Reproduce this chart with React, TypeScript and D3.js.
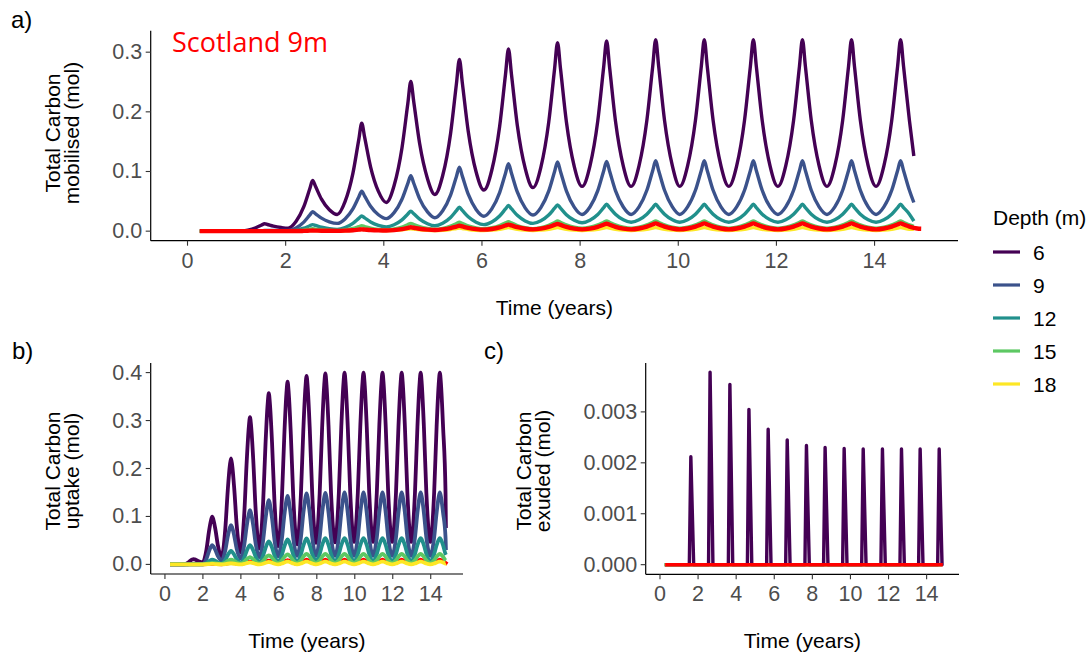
import React from "react";
import * as d3 from "d3";

// ---------- categories / styling keys ----------
const DEPTHS = ["6", "9", "12", "15", "18"];
const DEPTH_COLORS = ["#440154", "#3B528B", "#21908C", "#5DC863", "#FDE725"];
const RED = "#FF0000";

// ---------- tick labels ----------
const X_TICKS = [0, 2, 4, 6, 8, 10, 12, 14];
const A_Y_TICKS = [0, 0.1, 0.2, 0.3];
const B_Y_TICKS = [0, 0.1, 0.2, 0.3, 0.4];
const C_Y_TICKS = [0, 0.001, 0.002, 0.003];

const X_DOMAIN: [number, number] = [-0.75, 15.7];

// ---------- panel a: Total Carbon mobilised ----------
const A_START = 0.25;
const A_END_DEPTH = 14.8;
const A_END_RED = 14.95;
const A_PEAK_T = [1.57, 2.55, 3.55, 4.55, 5.54, 6.54, 7.54, 8.54, 9.54, 10.53, 11.53, 12.53, 13.53, 14.53];
// cycle shape (offset from peak in years, fraction of peak height above trough)
const A_SHAPE_OFF = [-0.34, -0.18, -0.06, 0, 0.06, 0.18, 0.34];
const A_SHAPE_FRAC = [0.14, 0.45, 0.82, 1, 0.82, 0.45, 0.14];

const A_PEAK_6 = [0.0125, 0.085, 0.181, 0.251, 0.288, 0.3055, 0.316, 0.319, 0.321, 0.321, 0.321, 0.321, 0.321, 0.321];
const A_TROUGH_6 = [0, 0.005, 0.028, 0.048, 0.0615, 0.069, 0.073, 0.075, 0.075, 0.075, 0.075, 0.075, 0.075, 0.075, 0.075];
const A_PEAK_9 = [0.001, 0.0325, 0.067, 0.093, 0.107, 0.113, 0.116, 0.117, 0.118, 0.118, 0.118, 0.118, 0.118, 0.118];
const A_TROUGH_9 = [0, 0.001, 0.013, 0.021, 0.0224, 0.025, 0.027, 0.028, 0.028, 0.028, 0.028, 0.028, 0.028, 0.028, 0.028];
const A_PEAK_12 = [0, 0.011, 0.0255, 0.0335, 0.04, 0.043, 0.044, 0.045, 0.045, 0.045, 0.045, 0.045, 0.045, 0.045];
const A_TROUGH_12 = [0, 0, 0.003, 0.007, 0.009, 0.011, 0.013, 0.014, 0.015, 0.015, 0.015, 0.015, 0.015, 0.015, 0.015];
const A_PEAK_15 = [0, 0.004, 0.009, 0.013, 0.015, 0.016, 0.017, 0.017, 0.017, 0.017, 0.017, 0.017, 0.017, 0.017];
const A_TROUGH_15 = [0, 0, 0.001, 0.002, 0.003, 0.004, 0.004, 0.005, 0.005, 0.005, 0.005, 0.005, 0.005, 0.005, 0.005];
const A_PEAK_18 = [0, 0.001, 0.003, 0.004, 0.005, 0.006, 0.006, 0.006, 0.006, 0.006, 0.006, 0.006, 0.006, 0.006];
const A_TROUGH_18 = [0, 0, 0, 0.001, 0.001, 0.001, 0.001, 0.001, 0.001, 0.001, 0.001, 0.001, 0.001, 0.001, 0.001];
const A_PEAK_RED = [0, 0.001, 0.003, 0.0065, 0.009, 0.011, 0.012, 0.0125, 0.013, 0.013, 0.013, 0.013, 0.013, 0.013];
const A_TROUGH_RED = [0, 0, 0.0005, 0.001, 0.002, 0.0025, 0.003, 0.003, 0.003, 0.003, 0.003, 0.003, 0.003, 0.003, 0.003];
const A_END_VALUES = [0.126, 0.048, 0.017, 0.008, 0.003];
const A_END_VALUE_RED = 0.004;

// ---------- panel b: Total Carbon uptake ----------
const B_START = 0.27;
const B_END_DEPTH = 14.8;
const B_END_RED = 14.88;
const B_PEAK_T = [1.5, 2.49, 3.48, 4.48, 5.47, 6.46, 7.46, 8.45, 9.46, 10.46, 11.46, 12.47, 13.47, 14.48];
const B_SHAPE_OFF = [-0.3, -0.17, -0.06, 0, 0.06, 0.17, 0.3];
const B_SHAPE_FRAC = [0.29, 0.68, 0.93, 1, 0.93, 0.68, 0.29];

const B_PEAK_6 = [0.011, 0.0995, 0.221, 0.307, 0.357, 0.381, 0.393, 0.3985, 0.4, 0.4, 0.4, 0.4, 0.4, 0.4];
const B_TROUGH_6 = [0, 0.004, 0.015, 0.025, 0.033, 0.038, 0.042, 0.045, 0.046, 0.047, 0.047, 0.047, 0.047, 0.047, 0.047];
const B_PEAK_9 = [0.001, 0.04, 0.082, 0.113, 0.134, 0.143, 0.148, 0.149, 0.15, 0.15, 0.15, 0.15, 0.15, 0.15];
const B_TROUGH_9 = [0, 0.001, 0.008, 0.012, 0.015, 0.017, 0.018, 0.018, 0.018, 0.018, 0.018, 0.018, 0.018, 0.018, 0.018];
const B_PEAK_12 = [0, 0.01, 0.028, 0.04, 0.048, 0.052, 0.054, 0.055, 0.055, 0.055, 0.055, 0.055, 0.055, 0.055];
const B_TROUGH_12 = [0, 0, 0.002, 0.004, 0.006, 0.007, 0.007, 0.008, 0.008, 0.008, 0.008, 0.008, 0.008, 0.008, 0.008];
const B_PEAK_15 = [0, 0.003, 0.01, 0.015, 0.019, 0.021, 0.022, 0.022, 0.022, 0.022, 0.022, 0.022, 0.022, 0.022];
const B_TROUGH_15 = [0, 0, 0.001, 0.002, 0.002, 0.003, 0.003, 0.003, 0.003, 0.003, 0.003, 0.003, 0.003, 0.003, 0.003];
const B_PEAK_18 = [0, 0.001, 0.002, 0.004, 0.005, 0.006, 0.006, 0.006, 0.006, 0.006, 0.006, 0.006, 0.006, 0.006];
const B_TROUGH_18 = [0, 0, 0, 0, 0, 0, 0, 0, 0, 0, 0, 0, 0, 0, 0];
const B_PEAK_RED = [0, 0.001, 0.003, 0.006, 0.008, 0.009, 0.01, 0.01, 0.01, 0.01, 0.01, 0.01, 0.01, 0.01];
const B_TROUGH_RED = [0, 0, 0, 0.001, 0.001, 0.001, 0.001, 0.001, 0.001, 0.001, 0.001, 0.001, 0.001, 0.001, 0.001];
const B_END_VALUES = [0.076, 0.03, 0.02, 0.008, 0.002];
const B_END_VALUE_RED = 0.001;

// ---------- panel c: Total Carbon exuded ----------
const C_START = 0.25;
const C_END_DEPTH = 14.8;
const C_RED_START = 0.27;
const C_RED_END = 14.85;
const C_SPIKE_T = [1.62, 2.63, 3.67, 4.67, 5.68, 6.68, 7.69, 8.67, 9.67, 10.67, 11.68, 12.68, 13.66, 14.66];
const C_SPIKE_6 = [0.00212, 0.00378, 0.00354, 0.00305, 0.00266, 0.00245, 0.00234, 0.0023, 0.00228, 0.00227, 0.00227, 0.00227, 0.00227, 0.00227];
const C_SHAPE_OFF = [-0.08, 0, 0.15];
const C_SHAPE_FRAC = [0, 1, 0];

type Pt = [number, number];

function buildCycles(
  start: number, peakT: number[], peaks: number[], troughs: number[],
  offs: number[], fracs: number[], end: number, endVal: number
): Pt[] {
  const half = 0.5;
  const pts: Pt[] = [[start, 0]];
  peakT.forEach((t, i) => {
    const tt = t - half;
    if (tt > start) pts.push([tt, troughs[i]]);
    offs.forEach((o, j) => {
      const lo = o < 0 ? troughs[i] : troughs[i + 1];
      pts.push([t + o, lo + fracs[j] * (peaks[i] - lo)]);
    });
  });
  pts.push([peakT[peakT.length - 1] + half, troughs[peakT.length]]);
  const out = pts.filter((p) => p[0] < end);
  out.push([end, endVal]);
  return out;
}

function buildSpikes(start: number, end: number, times: number[], vals: number[]): Pt[] {
  const pts: Pt[] = [[start, 0]];
  times.forEach((t, i) => {
    C_SHAPE_OFF.forEach((o, j) => pts.push([t + o, C_SHAPE_FRAC[j] * vals[i]]));
  });
  pts.push([end, 0]);
  return pts;
}

const FONT = "'Liberation Sans', Arial, sans-serif";
const TICK_FS = 21.5;
const TITLE_FS = 21;
const LABEL_FS = 24;

type Series = { pts: Pt[]; color: string; width: number; curve: d3.CurveFactory };

type PanelProps = {
  x0: number; x1: number; yTop: number; yBot: number;
  yDomain: [number, number]; yTicks: number[]; yFmt: (v: number) => string;
  series: Series[];
  yTitle: [string, string]; yTitleX: [number, number]; yTitleY: number;
  label: string; labelX: number; labelY: number;
};

function Panel(p: PanelProps) {
  const xs = d3.scaleLinear().domain(X_DOMAIN).range([p.x0, p.x1]);
  const ys = d3.scaleLinear().domain(p.yDomain).range([p.yBot, p.yTop]);
  const xMid = (p.x0 + p.x1) / 2;
  return (
    <g>
      <text x={p.labelX} y={p.labelY} fontSize={LABEL_FS} fontFamily={FONT} fill="#000">{p.label}</text>
      {p.series.map((s, i) => {
        const line = d3.line<Pt>().x((d) => xs(d[0])).y((d) => ys(d[1])).curve(s.curve);
        return (
          <path key={i} d={line(s.pts) || ""} fill="none" stroke={s.color}
            strokeWidth={s.width} strokeLinejoin="round" strokeLinecap="butt" />
        );
      })}
      <line x1={p.x0} x2={p.x0} y1={p.yTop} y2={p.yBot} stroke="#000" strokeWidth={1.2} />
      <line x1={p.x0} x2={p.x1} y1={p.yBot} y2={p.yBot} stroke="#000" strokeWidth={1.2} />
      {p.yTicks.map((v) => (
        <g key={"y" + v}>
          <line x1={p.x0 - 5} x2={p.x0} y1={ys(v)} y2={ys(v)} stroke="#333" strokeWidth={1.1} />
          <text x={p.x0 - 8.5} y={ys(v)} textAnchor="end" dominantBaseline="central"
            fontSize={TICK_FS} fontFamily={FONT} fill="#4D4D4D">{p.yFmt(v)}</text>
        </g>
      ))}
      {X_TICKS.map((v) => (
        <g key={"x" + v}>
          <line x1={xs(v)} x2={xs(v)} y1={p.yBot} y2={p.yBot + 5} stroke="#333" strokeWidth={1.1} />
          <text x={xs(v)} y={p.yBot + 27} textAnchor="middle"
            fontSize={TICK_FS} fontFamily={FONT} fill="#4D4D4D">{v}</text>
        </g>
      ))}
      <text x={xMid} y={p.yBot + 74} textAnchor="middle" fontSize={TITLE_FS} fontFamily={FONT} fill="#000">Time (years)</text>
      {p.yTitle.map((t, i) => (
        <text key={t} transform={`translate(${p.yTitleX[i]},${p.yTitleY}) rotate(-90)`} textAnchor="middle"
          fontSize={TITLE_FS} fontFamily={FONT} fill="#000">{t}</text>
      ))}
    </g>
  );
}

export default function App() {
  const mono = d3.curveMonotoneX;
  const lin = d3.curveLinear;

  const aPeaks = [A_PEAK_6, A_PEAK_9, A_PEAK_12, A_PEAK_15, A_PEAK_18];
  const aTroughs = [A_TROUGH_6, A_TROUGH_9, A_TROUGH_12, A_TROUGH_15, A_TROUGH_18];
  const aSeries: Series[] = DEPTHS.map((_, i) => ({
    pts: buildCycles(A_START, A_PEAK_T, aPeaks[i], aTroughs[i], A_SHAPE_OFF, A_SHAPE_FRAC, A_END_DEPTH, A_END_VALUES[i]),
    color: DEPTH_COLORS[i], width: 3.4, curve: mono,
  }));
  aSeries.push({
    pts: buildCycles(A_START, A_PEAK_T, A_PEAK_RED, A_TROUGH_RED, A_SHAPE_OFF, A_SHAPE_FRAC, A_END_RED, A_END_VALUE_RED),
    color: RED, width: 4.4, curve: mono,
  });

  const bPeaks = [B_PEAK_6, B_PEAK_9, B_PEAK_12, B_PEAK_15, B_PEAK_18];
  const bTroughs = [B_TROUGH_6, B_TROUGH_9, B_TROUGH_12, B_TROUGH_15, B_TROUGH_18];
  const bSeries: Series[] = [{
    pts: buildCycles(B_START, B_PEAK_T, B_PEAK_RED, B_TROUGH_RED, B_SHAPE_OFF, B_SHAPE_FRAC, B_END_RED, B_END_VALUE_RED),
    color: RED, width: 3.5, curve: mono,
  }];
  DEPTHS.forEach((_, i) => bSeries.push({
    pts: buildCycles(B_START, B_PEAK_T, bPeaks[i], bTroughs[i], B_SHAPE_OFF, B_SHAPE_FRAC, B_END_DEPTH, B_END_VALUES[i]),
    color: DEPTH_COLORS[i], width: 3.8, curve: mono,
  }));

  const cSeries: Series[] = [{
    pts: buildSpikes(C_START, C_END_DEPTH, C_SPIKE_T, C_SPIKE_6), color: DEPTH_COLORS[0], width: 3.4, curve: lin,
  }];
  DEPTHS.slice(1).forEach((_, i) => cSeries.push({
    pts: [[C_START, 0], [C_END_DEPTH, 0]], color: DEPTH_COLORS[i + 1], width: 3, curve: lin,
  }));
  cSeries.push({ pts: [[C_RED_START, 0], [C_RED_END, 0]], color: RED, width: 3.6, curve: lin });

  const f1 = d3.format(".1f");
  const f3 = d3.format(".3f");

  return (
    <svg width={1091} height={653} viewBox="0 0 1091 653"
      style={{ position: "absolute", left: 0, top: 0, background: "#fff", display: "block" }}>
      <rect x={0} y={0} width={1091} height={653} fill="#fff" />
      <Panel x0={150.7} x1={958} yTop={30.7} yBot={240.7} yDomain={[-0.016, 0.336]}
        yTicks={A_Y_TICKS} yFmt={f1} series={aSeries}
        yTitle={["Total Carbon", "mobilised (mol)"]} yTitleX={[60, 79]} yTitleY={133}
        label="a)" labelX={11} labelY={28} />
      <text x={172} y={52} fontSize={27} fontFamily="'Open Sans', sans-serif" fill={RED}>Scotland 9m</text>

      <Panel x0={150.7} x1={463} yTop={363} yBot={574} yDomain={[-0.02, 0.42]}
        yTicks={B_Y_TICKS} yFmt={f1} series={bSeries}
        yTitle={["Total Carbon", "uptake (mol)"]} yTitleX={[60, 79]} yTitleY={471}
        label="b)" labelX={12} labelY={359} />

      <Panel x0={645.7} x1={959} yTop={363} yBot={574.3} yDomain={[-0.000189, 0.00396]}
        yTicks={C_Y_TICKS} yFmt={f3} series={cSeries}
        yTitle={["Total Carbon", "exuded (mol)"]} yTitleX={[531, 550]} yTitleY={471}
        label="c)" labelX={484} labelY={359} />

      {/* legend */}
      <text x={993} y={225} fontSize={21} fontFamily={FONT} fill="#000">Depth (m)</text>
      {DEPTHS.map((d, i) => (
        <g key={d}>
          <line x1={993} x2={1020} y1={252 + i * 33} y2={252 + i * 33} stroke={DEPTH_COLORS[i]} strokeWidth={3.2} />
          <text x={1033} y={252 + i * 33} dominantBaseline="central" fontSize={21} fontFamily={FONT} fill="#000">{d}</text>
        </g>
      ))}
    </svg>
  );
}
